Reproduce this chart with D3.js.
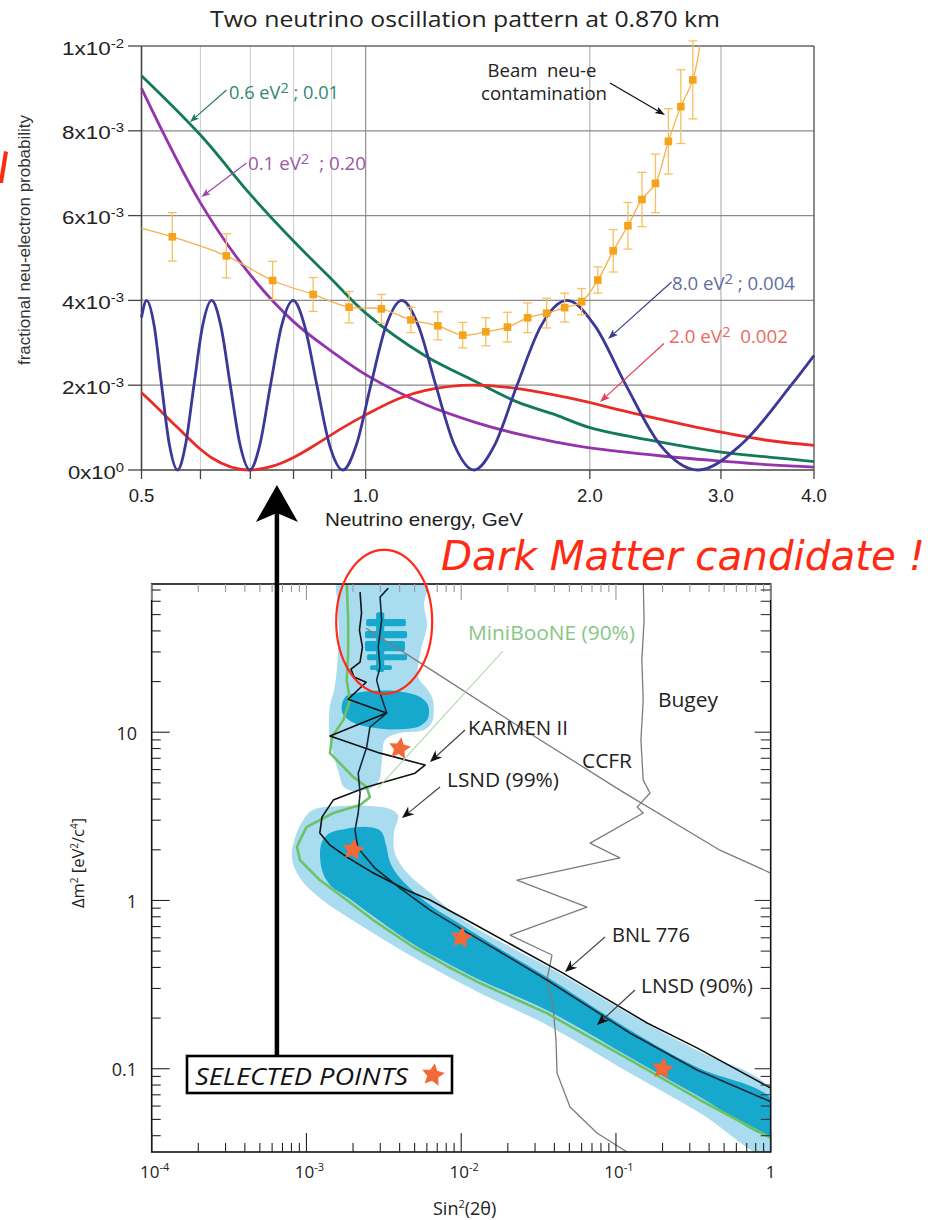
<!DOCTYPE html>
<html><head><meta charset="utf-8">
<script src="https://cdn.jsdelivr.net/npm/d3@7"></script>
<style>
html,body{margin:0;padding:0;background:#fff;}
svg{display:block;}
text{white-space:pre;}
</style></head><body>
<svg id="fig" width="941" height="1220"></svg>
<script>
// ===================== Top panel: appearance probability vs energy =====================
const energyMajor = [0.5, 1.0, 2.0, 3.0, 4.0];
const energyMajorLabels = ["0.5", "1.0", "2.0", "3.0", "4.0"];
const energyMinor = [0.6, 0.7, 0.8, 0.9];
const probTicks = [0, 0.002, 0.004, 0.006, 0.008, 0.010];
const probTickMantissa = ["0", "2", "4", "6", "8", "1"];
const probTickExponent = ["0", "-3", "-3", "-3", "-3", "-2"];

// 8.0 eV^2 ; sin^2 2θ = 0.004
const osc8E = [0.50,0.508,0.520,0.532,0.545,0.559,0.573,0.588,0.604,0.621,0.639,0.658,0.678,0.699,0.721,0.745,0.771,0.799,0.828,0.860,0.894,0.932,0.972,1.016,1.065,1.118,1.177,1.242,1.315,1.397,1.491,1.597,1.720,1.863,2.032,2.236,2.484,2.795,3.194,3.727,4.0];
const osc8P = [0.0036,0.0040,0.0034,0.0020,0.0006,0,0.0006,0.0020,0.0034,0.0040,0.0034,0.0020,0.0006,0,0.0006,0.0020,0.0034,0.0040,0.0034,0.0020,0.0006,0,0.0006,0.0020,0.0034,0.0040,0.0034,0.0020,0.0006,0,0.0006,0.0020,0.0034,0.0040,0.0034,0.0020,0.0006,0,0.0006,0.0020,0.0027];
// 2.0 eV^2 ; 0.002
const osc2E = [0.50,0.508,0.559,0.60,0.621,0.699,0.75,0.799,0.85,0.932,1.0,1.118,1.2,1.397,1.6,1.863,2.3,2.795,3.5,4.0];
const osc2P = [0.00182,0.00171,0.0010,0.00049,0.00029,0,0.00009,0.00029,0.00056,0.0010,0.00130,0.00171,0.00187,0.0020,0.00192,0.00171,0.00133,0.0010,0.00069,0.00058];
// 0.6 eV^2 ; 0.01
const osc06E = [0.5,0.6,0.7,0.8,0.9,1.0,1.2,1.4,1.6,1.8,2.0,2.5,3.0,3.5,4.0];
const osc06P = [0.0093,0.0079,0.0065,0.0054,0.0045,0.0037,0.0027,0.0021,0.0016,0.0013,0.00100,0.00065,0.00042,0.00030,0.00020];
// 0.1 eV^2 ; 0.20
const osc01E = [0.5,0.6,0.7,0.8,0.9,1.0,1.2,1.4,1.6,1.8,2.0,2.5,3.0,3.5,4.0];
const osc01P = [0.0090,0.0063,0.0046,0.0035,0.0028,0.00225,0.00155,0.00113,0.00085,0.00066,0.00052,0.00033,0.00021,0.00012,0.00007];

// Intrinsic beam nu_e contamination (binned, with errors)
const beamE = [0.55,0.65,0.75,0.85,0.95,1.05,1.15,1.25,1.35,1.45,1.55,1.65,1.75,1.85,1.95,2.05,2.15,2.25,2.35,2.45,2.55,2.65,2.75];
const beamP = [0.00550,0.00505,0.00447,0.00414,0.00384,0.00380,0.00354,0.00340,0.00318,0.00326,0.00337,0.00359,0.00370,0.00383,0.00397,0.00448,0.00517,0.00576,0.00638,0.00676,0.00775,0.00857,0.00920];
const beamErr = [0.00057,0.00052,0.00045,0.00040,0.00037,0.00034,0.00030,0.00033,0.00030,0.00033,0.00035,0.00035,0.00035,0.00034,0.00031,0.00031,0.00050,0.00055,0.00064,0.00069,0.00077,0.00087,0.00092];
const beamTrendStart = [0.5, 0.0057];
const beamTrendEnd = [2.81, 0.0100];

// ===================== Bottom panel: Δm² vs sin²2θ =====================
const sinMajor = [1e-4, 1e-3, 1e-2, 1e-1, 1];
const sinMajorExp = ["-4", "-3", "-2", "-1", ""];
const dmMajor = [0.1, 1, 10];
const dmMajorLabels = ["0.1", "1", "10"];

// LSND 99% allowed region (high-Δm² column and low-Δm² band)
const lsnd99UpperS = [0.00160,0.00592,0.00575,0.00601,0.00550,0.00526,0.00610,0.00657,0.00648,0.00575,0.00402,0.00322,0.00308,0.00290,0.00239,0.00178,0.00160,0.00146,0.00140,0.00142,0.00151,0.00158,0.00162,0.00158];
const lsnd99UpperDm = [80,80,56.9,43.3,30.7,21.5,17.8,15.5,11.5,10.3,9.88,8.98,6.83,5.05,4.53,4.65,5.95,8.05,10.3,14.5,17.8,25.0,40.4,61];
const lsnd99LowerS = [0.00109,0.00165,0.00257,0.00347,0.00390,0.00368,0.00373,0.00447,0.00629,0.0103,0.0455,0.159,0.334,1.0,1.0,0.349,0.123,0.0358,0.0132,0.00488,0.00222,0.00122,0.000908,0.000806,0.000843,0.000936];
const lsnd99LowerDm = [3.44,3.64,3.64,3.49,3.22,2.52,1.91,1.46,1.11,0.765,0.360,0.184,0.129,0.0747,0.030,0.0546,0.0943,0.182,0.282,0.461,0.714,1.033,1.359,1.786,2.349,2.923];

// LSND 90% allowed region
const lsnd90BandS = [0.00124,0.00138,0.00178,0.00250,0.00303,0.00327,0.00347,0.00402,0.00629,0.0103,0.0170,0.0358,0.123,0.334,1.0,1.0,0.349,0.123,0.0358,0.0132,0.00809,0.00488,0.00269,0.00183,0.00142,0.00126];
const lsnd90BandDm = [2.13,2.48,2.66,2.73,2.58,2.13,1.69,1.36,0.939,0.705,0.529,0.351,0.170,0.102,0.0661,0.0404,0.0679,0.117,0.223,0.337,0.425,0.551,0.808,1.048,1.235,1.515];
const lsnd90IslandS = [0.00178,0.00222,0.00373,0.00526,0.00610,0.00610,0.00542,0.00373,0.00257,0.00197,0.00170];
const lsnd90IslandDm = [16.2,17.3,17.6,16.4,14.5,12.1,10.9,10.4,10.7,11.5,13.2];
// thin high-Δm² 90% slivers: [sinLo, sinHi, dmLo, dmHi]
const lsnd90Slivers = [
  [0.00243, 0.00439, 42.7, 47.0],
  [0.00239, 0.00447, 36.2, 39.9],
  [0.00239, 0.00433, 30.3, 34.8],
  [0.00246, 0.00447, 26.8, 29.1],
  [0.00257, 0.00357, 23.4, 25.0],
  [0.00282, 0.00318, 22.8, 51.7]
];

// Exclusion / sensitivity curves
const bnl776S = [0.00222,0.00227,0.00220,0.00230,0.00222,0.00194,0.00203,0.00243,0.00186,0.00329,0.00142,0.00299,0.00584,0.00503,0.00246,0.00149,0.00126,0.00122,0.00142,0.00183,0.00269,0.00447,0.00629,0.0103,0.0455,0.159,0.334,1.0];
const bnl776Dm = [68,51,40.4,32,26.1,23.7,21.3,19.8,15.7,13.0,9.48,7.51,6.38,5.71,4.72,3.95,3.13,2.52,2.13,1.81,1.46,1.15,1.006,0.786,0.370,0.187,0.133,0.0768];
const karmen2S = [0.00338,0.00299,0.00306,0.00291,0.00299,0.00284,0.00299,0.00330,0.00257,0.00245,0.00216,0.00222,0.00216,0.00206,0.00215,0.00277,0.00402,0.00629,0.0103,0.0170,0.0358,0.123,0.334,1.0];
const karmen2Dm = [71.8,63.5,46.4,32.0,24.4,20.4,17.1,13.0,10.7,8.15,5.71,4.35,3.31,2.62,2.05,1.557,1.185,0.877,0.667,0.508,0.337,0.163,0.0983,0.0637];
const miniBooNES = [0.00182,0.00186,0.00186,0.00182,0.00191,0.00173,0.00146,0.00142,0.00201,0.00245,0.00257,0.00222,0.00149,0.00100,0.000908,0.000869,0.000908,0.00122,0.00182,0.00270,0.00490,0.00806,0.0132,0.0357,0.123,0.349,1.0];
const miniBooNEDm = [80,46.4,29.5,20.4,15.5,11.8,9.35,7.51,5.41,4.72,4.11,3.69,3.31,2.73,2.285,2.077,1.738,1.322,1.006,0.765,0.529,0.408,0.323,0.214,0.113,0.0652,0.0388];
const ccfrS = [0.00243,0.00629,0.0240,0.106,0.470,1.0];
const ccfrDm = [41.5,23.7,10.7,4.53,1.99,1.455];
const bugeyS = [0.150,0.152,0.147,0.150,0.145,0.150,0.166,0.137,0.150,0.068,0.106,0.0229,0.065,0.0207,0.0386,0.0358,0.0392,0.041,0.0416,0.0505,0.0754,0.118];
const bugeyDm = [80,46.4,26.8,15.5,8.98,5.19,4.35,3.59,3.31,2.19,1.79,1.32,0.914,0.623,0.474,0.337,0.233,0.148,0.0943,0.0592,0.0415,0.032];

// Selected (Δm², sin²2θ) points shown in the top panel
const selectedS = [0.004, 0.002, 0.01, 0.20];
const selectedDm = [8.0, 2.0, 0.6, 0.1];

// ===================== helpers =====================
const svg = d3.select("#fig");
const zip = (a, b) => a.map((v, i) => [v, b[i]]);

function label(g, x, y, parts, o) {
  const t = g.append("text").attr("x", x).attr("y", y)
    .attr("font-family", o.family).attr("font-size", o.size)
    .attr("fill", o.color || "#222")
    .attr("text-anchor", o.anchor || "start");
  if (o.style) t.attr("font-style", o.style);
  if (o.length) t.attr("textLength", o.length).attr("lengthAdjust", "spacingAndGlyphs");
  if (o.transform) t.attr("transform", o.transform);
  const supSize = o.supSize || o.size * 0.65;
  const supShift = o.supShift || o.size * 0.4;
  let raised = false;
  (typeof parts === "string" ? [[parts, 0]] : parts).forEach(([s, sup]) => {
    const ts = t.append("tspan").text(s);
    if (sup) { ts.attr("font-size", supSize); if (!raised) { ts.attr("dy", -supShift); raised = true; } }
    else if (raised) { ts.attr("dy", supShift); raised = false; }
  });
  return t;
}

function arrow(g, x1, y1, x2, y2, o) {
  const ang = Math.atan2(y2 - y1, x2 - x1);
  const L = o.head, W = o.headW / 2, notch = o.notch || 0;
  const c = Math.cos(ang), s = Math.sin(ang);
  const bx = x2 - L * c, by = y2 - L * s;
  const nx = x2 - (L - notch) * c, ny = y2 - (L - notch) * s;
  g.append("line").attr("x1", x1).attr("y1", y1).attr("x2", nx).attr("y2", ny)
    .attr("stroke", o.lineColor || o.color).attr("stroke-width", o.width);
  g.append("path")
    .attr("d", `M${x2},${y2}L${bx - s * W},${by + c * W}L${nx},${ny}L${bx + s * W},${by - c * W}Z`)
    .attr("fill", o.color);
}

function starPath(cx, cy, R, r, rot) {
  let d = "";
  for (let i = 0; i < 10; i++) {
    const rad = i % 2 ? r : R;
    const a = -Math.PI / 2 + rot + i * Math.PI / 5;
    d += (i ? "L" : "M") + (cx + rad * Math.cos(a)).toFixed(2) + "," + (cy + rad * Math.sin(a)).toFixed(2);
  }
  return d + "Z";
}

// ===================== top panel =====================
const xE = d3.scaleLog().domain([0.5, 4]).range([141.5, 814]);
const yP = d3.scaleLinear().domain([0, 0.01]).range([470, 46]);
const topG = svg.append("g");

// grid
topG.selectAll(".vminor").data(energyMinor).join("line")
  .attr("x1", d => xE(d)).attr("x2", d => xE(d)).attr("y1", yP(0.01)).attr("y2", yP(0))
  .attr("stroke", "#cfcfcf").attr("stroke-width", 1.1);
topG.selectAll(".vmajor").data([1.0, 2.0, 3.0]).join("line")
  .attr("x1", d => xE(d)).attr("x2", d => xE(d)).attr("y1", yP(0.01)).attr("y2", yP(0))
  .attr("stroke", d => d === 1.0 ? "#8f8f8f" : "#b4b4b4").attr("stroke-width", 1.2);
topG.selectAll(".hgrid").data(probTicks.slice(1, 5)).join("line")
  .attr("x1", xE(0.5)).attr("x2", xE(4)).attr("y1", d => yP(d)).attr("y2", d => yP(d))
  .attr("stroke", "#8a8a8a").attr("stroke-width", 1.3);
topG.append("line").attr("x1", xE(0.5)).attr("x2", xE(4)).attr("y1", yP(0.01)).attr("y2", yP(0.01))
  .attr("stroke", "#666").attr("stroke-width", 1.5);
topG.append("line").attr("x1", xE(4)).attr("x2", xE(4)).attr("y1", yP(0.01)).attr("y2", yP(0))
  .attr("stroke", "#666").attr("stroke-width", 1.5);
topG.append("line").attr("x1", xE(0.5)).attr("x2", xE(0.5)).attr("y1", yP(0.01)).attr("y2", yP(0))
  .attr("stroke", "#444").attr("stroke-width", 1.6);
topG.append("line").attr("x1", xE(0.5)).attr("x2", xE(4)).attr("y1", yP(0)).attr("y2", yP(0))
  .attr("stroke", "#444").attr("stroke-width", 1.6);
// ticks
topG.selectAll(".yt").data(probTicks).join("line")
  .attr("x1", xE(0.5) - 13.5).attr("x2", xE(0.5)).attr("y1", d => yP(d)).attr("y2", d => yP(d))
  .attr("stroke", "#444").attr("stroke-width", 1.3);
topG.selectAll(".xt").data(energyMajor.concat(energyMinor)).join("line")
  .attr("x1", d => xE(d)).attr("x2", d => xE(d)).attr("y1", yP(0)).attr("y2", yP(0) + 9)
  .attr("stroke", "#444").attr("stroke-width", 1.3);

probTicks.forEach((v, i) => {
  label(topG, 124, yP(v) + 8.5, [[probTickMantissa[i] + "x10", 0], [probTickExponent[i], 1]],
    { family: "Liberation Sans, Arial, sans-serif", size: 18, supSize: 12, supShift: 7, anchor: "end",
      color: "#222", length: probTickExponent[i] === "0" ? 56 : 62 });
});
energyMajor.forEach((v, i) => {
  label(topG, xE(v), 501.5, energyMajorLabels[i],
    { family: "Liberation Sans, Arial, sans-serif", size: 18.5, anchor: "middle", color: "#222" });
});
label(topG, 325, 526, "Neutrino energy, GeV",
  { family: "Liberation Sans, Arial, sans-serif", size: 19, color: "#222", length: 198 });
label(topG, 0, 0, "fractional neu-electron probability",
  { family: "Liberation Sans, Arial, sans-serif", size: 17, color: "#333", anchor: "middle",
    transform: "translate(30,240) rotate(-90)", length: 250 });
label(topG, 210, 27, "Two neutrino oscillation pattern at 0.870 km",
  { family: "Open Sans, sans-serif", size: 21, color: "#222", length: 510 });

// oscillation curves
const lineE = d3.line().x(d => xE(d[0])).y(d => yP(d[1])).curve(d3.curveMonotoneX);
const smoothE = d3.line().x(d => xE(d[0])).y(d => yP(d[1])).curve(d3.curveCatmullRom.alpha(0.5));
[[osc01E, osc01P, "#9433ad", smoothE], [osc06E, osc06P, "#127a58", smoothE],
 [osc2E, osc2P, "#ea2b26", lineE], [osc8E, osc8P, "#3b3898", lineE]]
  .forEach(([e, p, c, gen]) => {
    topG.append("path").attr("d", gen(zip(e, p))).attr("fill", "none")
      .attr("stroke", c).attr("stroke-width", 2.8).attr("stroke-linejoin", "round");
  });

// beam nu_e contamination
const beamPts = zip(beamE, beamP);
topG.append("path").attr("d", smoothE([beamTrendStart].concat(beamPts, [beamTrendEnd])))
  .attr("fill", "none").attr("stroke", "#f4b04a").attr("stroke-width", 1.3);
const eb = topG.append("g").attr("stroke", "#f6c060").attr("stroke-width", 1.3);
beamPts.forEach(([e, p], i) => {
  const x = xE(e), y0 = yP(p - beamErr[i]), y1 = yP(p + beamErr[i]);
  eb.append("line").attr("x1", x).attr("x2", x).attr("y1", y0).attr("y2", y1);
  eb.append("line").attr("x1", x - 4.5).attr("x2", x + 4.5).attr("y1", y0).attr("y2", y0);
  eb.append("line").attr("x1", x - 4.5).attr("x2", x + 4.5).attr("y1", y1).attr("y2", y1);
});
topG.selectAll(".bm").data(beamPts).join("rect")
  .attr("x", d => xE(d[0]) - 3.8).attr("y", d => yP(d[1]) - 3.8).attr("width", 7.6).attr("height", 7.6)
  .attr("fill", "#f5a31b");

// annotations
const annFont = "Open Sans, sans-serif";
label(topG, 229, 99, [["0.6 eV", 0], ["2", 1], [" ; 0.01", 0]],
  { family: annFont, size: 17.5, supSize: 14, supShift: 6.5, color: "#2f8a6b", length: 110 });
arrow(topG, 226.5, 90, 190, 122, { color: "#1f7a5a", width: 1.2, head: 9, headW: 7, notch: 2 });
label(topG, 248, 170, [["0.1 eV", 0], ["2", 1], ["  ; 0.20", 0]],
  { family: annFont, size: 17.5, supSize: 14, supShift: 6.5, color: "#9a5aa3", length: 118 });
arrow(topG, 246.5, 163, 201.5, 197, { color: "#9a4aa5", width: 1.2, head: 9, headW: 7, notch: 2 });
label(topG, 672, 290, [["8.0 eV", 0], ["2", 1], [" ; 0.004", 0]],
  { family: annFont, size: 17.5, supSize: 14, supShift: 6.5, color: "#5f6e9e", length: 123 });
arrow(topG, 671.5, 282, 608, 339, { color: "#3d3f8f", width: 1.2, head: 10, headW: 7.5, notch: 2 });
label(topG, 669, 343, [["2.0 eV", 0], ["2", 1], ["  0.002", 0]],
  { family: annFont, size: 17.5, supSize: 14, supShift: 6.5, color: "#ea6a60", length: 119 });
arrow(topG, 664, 343.5, 600, 402, { color: "#ea3e52", width: 1.2, head: 10, headW: 7.5, notch: 2 });
label(topG, 542, 77, "Beam  neu-e", { family: annFont, size: 17.5, color: "#222", anchor: "middle", length: 109 });
label(topG, 544, 100, "contamination", { family: annFont, size: 17.5, color: "#222", anchor: "middle", length: 126 });
arrow(topG, 610, 83, 665, 115, { color: "#111", width: 1.3, head: 10, headW: 7, notch: 2 });

// ===================== bottom panel =====================
const xS = d3.scaleLog().domain([1e-4, 1]).range([151.7, 770.7]);
const yM = d3.scaleLog().domain([0.032, 76]).range([1152, 584]);
const botG = svg.append("g");
botG.append("clipPath").attr("id", "plotClip").append("rect")
  .attr("x", xS(1e-4)).attr("y", yM(76)).attr("width", xS(1) - xS(1e-4)).attr("height", yM(0.032) - yM(76));
const plot = botG.append("g").attr("clip-path", "url(#plotClip)");

const area = d3.line().x(d => xS(d[0])).y(d => yM(d[1])).curve(d3.curveCatmullRomClosed.alpha(0.5));
const path = d3.line().x(d => xS(d[0])).y(d => yM(d[1]));

const LIGHT = "#a9dcef", DARK = "#17a8cd";
plot.append("path").attr("d", area(zip(lsnd99UpperS, lsnd99UpperDm))).attr("fill", LIGHT);
plot.append("path").attr("d", area(zip(lsnd99LowerS, lsnd99LowerDm))).attr("fill", LIGHT);
plot.append("path").attr("d", area(zip(lsnd90BandS, lsnd90BandDm))).attr("fill", DARK);
plot.append("path").attr("d", area(zip(lsnd90IslandS, lsnd90IslandDm))).attr("fill", DARK);
plot.selectAll(".sliver").data(lsnd90Slivers).join("rect")
  .attr("x", d => xS(d[0])).attr("width", d => xS(d[1]) - xS(d[0]))
  .attr("y", d => yM(d[3])).attr("height", d => yM(d[2]) - yM(d[3]))
  .attr("rx", 2).attr("fill", DARK);

plot.append("path").attr("d", path(zip(ccfrS, ccfrDm))).attr("fill", "none")
  .attr("stroke", "#7c7c7c").attr("stroke-width", 1.3);
plot.append("path").attr("d", path(zip(bugeyS, bugeyDm))).attr("fill", "none")
  .attr("stroke", "#7c7c7c").attr("stroke-width", 1.3).attr("stroke-linejoin", "round");
plot.append("path").attr("d", path(zip(miniBooNES, miniBooNEDm))).attr("fill", "none")
  .attr("stroke", "#6fc166").attr("stroke-width", 2.6).attr("stroke-linejoin", "round");
plot.append("path").attr("d", path(zip(bnl776S, bnl776Dm))).attr("fill", "none")
  .attr("stroke", "#111").attr("stroke-width", 1.6).attr("stroke-linejoin", "round");
plot.append("path").attr("d", path(zip(karmen2S, karmen2Dm))).attr("fill", "none")
  .attr("stroke", "#14283a").attr("stroke-width", 1.6).attr("stroke-linejoin", "round");

// MiniBooNE label leader
botG.append("line").attr("x1", 503).attr("y1", 651).attr("x2", 378).attr("y2", 788)
  .attr("stroke", "#a6d8a0").attr("stroke-width", 1.1);

// selected points
plot.selectAll(".star").data(zip(selectedS, selectedDm)).join("path")
  .attr("d", d => starPath(xS(d[0]), yM(d[1]), 11.5, 5.6, 0.15)).attr("fill", "#f26836");

// frame & ticks
botG.append("rect").attr("x", xS(1e-4)).attr("y", yM(76)).attr("width", xS(1) - xS(1e-4))
  .attr("height", yM(0.032) - yM(76)).attr("fill", "none").attr("stroke", "#111").attr("stroke-width", 1.6);
const sinMinor = [];
[-4, -3, -2, -1].forEach(e => { for (let k = 2; k <= 9; k++) sinMinor.push(k * Math.pow(10, e)); });
const dmMinor = [];
[-2, -1, 0, 1].forEach(e => { for (let k = 2; k <= 9; k++) { const v = k * Math.pow(10, e); if (v > 0.032 && v < 76) dmMinor.push(v); } });
const ticks = botG.append("g").attr("stroke-width", 1.1);
const yB = yM(0.032), yT = yM(76), xL = xS(1e-4), xR = xS(1);
sinMajor.concat(sinMinor).forEach(v => {
  const maj = sinMajor.includes(v);
  ticks.append("line").attr("x1", xS(v)).attr("x2", xS(v)).attr("y1", yB).attr("y2", yB - (maj ? 19 : 9)).attr("stroke", "#222");
  ticks.append("line").attr("x1", xS(v)).attr("x2", xS(v)).attr("y1", yT).attr("y2", yT + (maj ? 16 : 8)).attr("stroke", "#999");
});
dmMajor.concat(dmMinor).forEach(v => {
  const maj = dmMajor.includes(v);
  ticks.append("line").attr("x1", xL).attr("x2", xL + (maj ? 18 : 9)).attr("y1", yM(v)).attr("y2", yM(v)).attr("stroke", "#222");
  ticks.append("line").attr("x1", xR).attr("x2", xR - (maj ? 16 : 10)).attr("y1", yM(v)).attr("y2", yM(v)).attr("stroke", "#333");
});

const botFont = "Open Sans, sans-serif";
sinMajor.forEach((v, i) => {
  const parts = sinMajorExp[i] ? [["10", 0], [sinMajorExp[i], 1]] : [["1", 0]];
  label(botG, xS(v) + (sinMajorExp[i] ? 3 : 0), 1178, parts,
    { family: botFont, size: 17, supSize: 11, supShift: 7, anchor: "middle", color: "#222" });
});
dmMajor.forEach((v, i) => {
  label(botG, 137, yM(v) + 7.5, dmMajorLabels[i], { family: botFont, size: 18, anchor: "end", color: "#222" });
});
label(botG, 433, 1215, [["Sin", 0], ["2", 1], ["(2θ)", 0]],
  { family: botFont, size: 18, supSize: 11, supShift: 7, color: "#222" });
label(botG, 0, 0, [["Δm", 0], ["2", 1], [" [eV", 0], ["2", 1], ["/c", 0], ["4", 1], ["]", 0]],
  { family: botFont, size: 16.5, supSize: 10, supShift: 6, color: "#222", anchor: "middle",
    transform: "translate(84,863) rotate(-90)" });

// curve labels
label(botG, 468, 640, "MiniBooNE (90%)", { family: botFont, size: 20, color: "#86c784", length: 167 });
label(botG, 658, 707, "Bugey", { family: botFont, size: 20, color: "#222", length: 60 });
label(botG, 468, 735, "KARMEN II", { family: botFont, size: 20, color: "#222", length: 100 });
label(botG, 582, 768, "CCFR", { family: botFont, size: 20, color: "#222", length: 50 });
label(botG, 447, 787, "LSND (99%)", { family: botFont, size: 20, color: "#222", length: 112 });
label(botG, 612, 941.5, "BNL 776", { family: botFont, size: 20, color: "#222", length: 78 });
label(botG, 641, 993, "LNSD (90%)", { family: botFont, size: 20, color: "#222", length: 112 });
const arrowStyle = { color: "#111", lineColor: "#444", width: 1.2, head: 12, headW: 10, notch: 3.5 };
arrow(botG, 465, 730, 430, 762, arrowStyle);
arrow(botG, 440, 787, 402, 818, arrowStyle);
arrow(botG, 605, 937, 565, 972, arrowStyle);
arrow(botG, 635, 990, 597, 1025, arrowStyle);

// link between the panels and legend box
const linkX = xE(0.76);
svg.append("line").attr("x1", linkX).attr("x2", linkX).attr("y1", 1056).attr("y2", 512)
  .attr("stroke", "#000").attr("stroke-width", 4.5);
svg.append("path")
  .attr("d", `M${linkX},485L${linkX + 21},522L${linkX},513L${linkX - 21},522Z`).attr("fill", "#000");
svg.append("rect").attr("x", 187).attr("y", 1056).attr("width", 265).attr("height", 37)
  .attr("fill", "#fff").attr("stroke", "#000").attr("stroke-width", 2.6);
label(svg, 195, 1085, "SELECTED POINTS", { family: botFont, size: 24, style: "italic", color: "#111", length: 213 });
svg.append("path").attr("d", starPath(433, 1075, 12, 5.8, 0.15)).attr("fill", "#f26836");

// highlighted high-Δm² region
svg.append("ellipse").attr("cx", xS(0.00318)).attr("cy", yM(45.3)).attr("rx", 48).attr("ry", 72)
  .attr("fill", "none").attr("stroke", "#ff2a1a").attr("stroke-width", 2.2);
label(svg, 441, 570, "Dark Matter candidate !",
  { family: "DejaVu Sans, sans-serif", size: 40, style: "italic", color: "#ff2a12", length: 484 });
// red pen stroke at the left margin
svg.append("path").attr("d", "M4,151L8,152L3,183L0,183L0,176Z").attr("fill", "#ff2a12");
</script>
</body></html>
